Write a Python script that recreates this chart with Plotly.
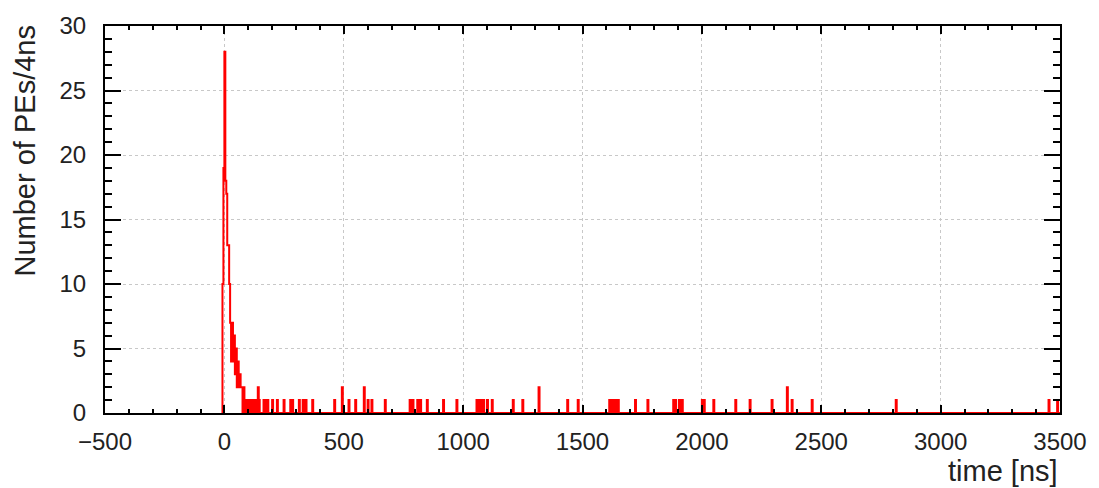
import numpy as np
import plotly.graph_objects as go

# Histogram binning (ns)
bin_width = 4
x_min, x_max = -500, 3500
hist_start = -12

# Prompt pulse: lower bin edge (ns) and number of PEs
peak_times = [-8, -4, 0, 4, 8, 12, 16, 20, 24, 28, 32, 36, 40, 44, 48, 52, 56, 60, 64, 68, 72, 80]
peak_counts = [10, 19, 28, 18, 17, 13, 13, 10, 7, 4, 7, 4, 6, 3, 5, 2, 4, 2, 3, 2, 2, 2]

# Late single/double photoelectron hits: lower bin edge (ns) and number of PEs
late_times = [92, 96, 104, 112, 116, 124, 128, 140, 144, 164, 172, 180, 200, 220, 248,
              276, 284, 312, 328, 340, 368, 460, 492, 520, 548, 584, 600, 616, 672,
              776, 788, 808, 820, 848, 916, 972, 1056, 1064, 1068, 1076, 1084, 1100,
              1120, 1208, 1248, 1316, 1436, 1480, 1612, 1624, 1636, 1648, 1720, 1772,
              1880, 1888, 1904, 1916, 2000, 2008, 2048, 2140, 2200, 2292, 2356, 2376,
              2460, 2812, 3452, 3488]
late_counts = [1, 1, 1, 1, 1, 1, 1, 2, 1, 1, 1, 1, 1, 1, 1,
               1, 1, 1, 1, 1, 1, 1, 2, 1, 1, 2, 1, 1, 1,
               1, 1, 1, 1, 1, 1, 1, 1, 1, 1, 1, 1, 1,
               1, 1, 1, 2, 1, 1, 1, 1, 1, 1, 1, 1,
               1, 1, 1, 1, 1, 1, 1, 1, 1, 1, 2, 1,
               1, 1, 1, 1]

# Fill the histogram
edges = np.arange(hist_start, x_max + bin_width, bin_width)
counts = np.zeros(len(edges) - 1)
for t, c in zip(peak_times + late_times, peak_counts + late_counts):
    counts[(t - hist_start) // bin_width] = c
step_y = np.append(counts, counts[-1])

fig = go.Figure()
fig.add_trace(go.Scatter(
    x=edges, y=step_y, mode="lines", line_shape="hv",
    line=dict(color="#ff0000", width=2), hoverinfo="skip", showlegend=False,
))

font_family = "Liberation Sans, Arial, Helvetica, sans-serif"
axis_common = dict(
    showline=True, linecolor="black", linewidth=2, mirror="ticks",
    ticks="inside", tickcolor="black", tickwidth=1.5,
    showgrid=True, gridcolor="#c8c8c8", gridwidth=1, griddash="dot",
    zeroline=False, tickfont=dict(family=font_family, size=24, color="#222"),
)

fig.update_xaxes(
    range=[x_min, x_max], dtick=500, tick0=0, ticklen=8,
    minor=dict(dtick=100, ticklen=4, ticks="inside", tickcolor="black", showgrid=False),
    ticklabelstandoff=6,
    **axis_common,
)
fig.update_yaxes(
    range=[0, 30], dtick=5, tick0=0, ticklen=16,
    minor=dict(dtick=1, ticklen=7, ticks="inside", tickcolor="black", showgrid=False),
    ticklabelstandoff=12,
    **axis_common,
)

fig.add_annotation(
    text="time [ns]", xref="paper", yref="paper", x=1, y=0,
    xanchor="right", yanchor="top", yshift=-40, showarrow=False,
    font=dict(family=font_family, size=29, color="#222"),
)
fig.add_annotation(
    text="Number of PEs/4ns", xref="paper", yref="paper", x=0, y=1,
    xanchor="right", yanchor="top", xshift=-63, yshift=2, textangle=-90,
    showarrow=False, font=dict(family=font_family, size=29, color="#222"),
)

fig.update_layout(
    width=1099, height=488,
    margin=dict(l=105, r=36, t=18, b=75),
    paper_bgcolor="white", plot_bgcolor="white",
)

fig.write_html("out.html")
